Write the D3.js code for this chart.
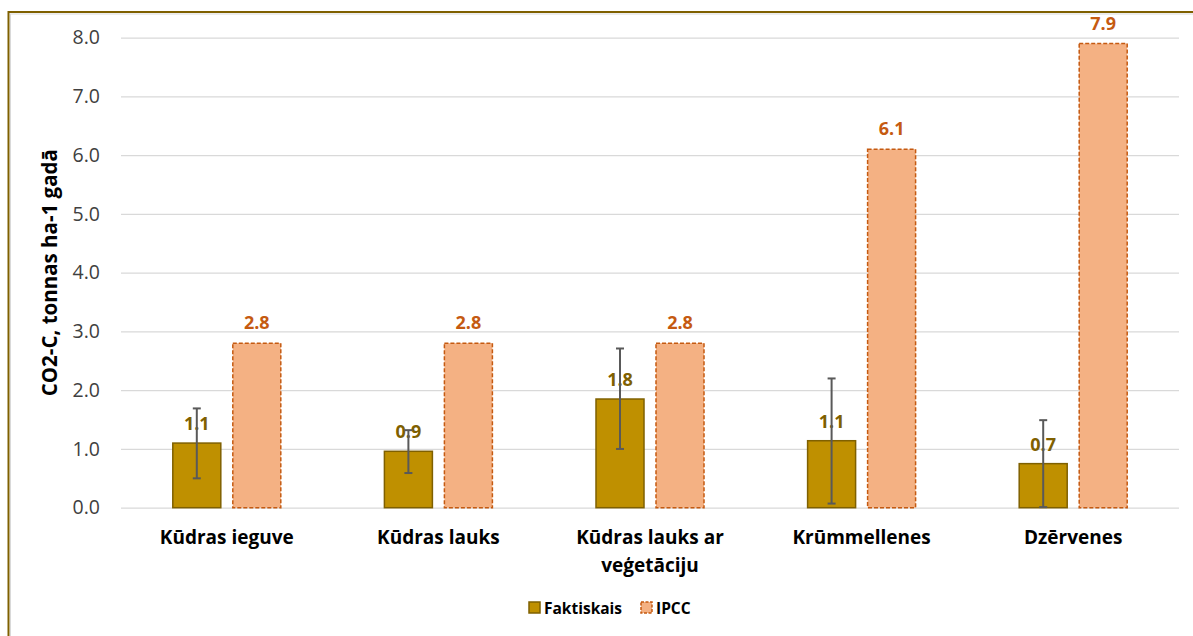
<!DOCTYPE html>
<html>
<head>
<meta charset="utf-8">
<script src="https://cdn.jsdelivr.net/npm/d3@7"></script>
<style>
  body { margin: 0; background: #fff; }
  svg { display: block; font-family: "Open Sans", sans-serif; }
</style>
</head>
<body>
<svg id="chart" width="1193" height="636"></svg>
<script>
// data
const categories = ["Kūdras ieguve", "Kūdras lauks", "Kūdras lauks ar veģetāciju", "Krūmmellenes", "Dzērvenes"];
const faktiskais = [1.1, 0.96, 1.85, 1.14, 0.75];
const faktLabels = ["1.1", "0.9", "1.8", "1.1", "0.7"];
const errLow = [0.5, 0.59, 1.0, 0.07, 0.01];
const errHigh = [1.69, 1.32, 2.71, 2.2, 1.49];
const ipcc = [2.8, 2.8, 2.8, 6.1, 7.9];
const yTicks = [0, 1, 2, 3, 4, 5, 6, 7, 8];
const seriesNames = ["Faktiskais", "IPCC"];

const svg = d3.select("#chart");
const margin = {top: 37.7, left: 121, right: 1193 - 1179, bottom: 636 - 507.7};
const width = 1193, height = 636;

// outer frame
svg.append("rect").attr("x", 10.5).attr("y", 14).attr("width", 1200).attr("height", 640)
  .attr("fill", "none").attr("stroke", "#d9d9d9").attr("stroke-width", 1);
svg.append("rect").attr("x", 8.5).attr("y", 12).attr("width", 1200).attr("height", 640)
  .attr("fill", "none").attr("stroke", "#7f6000").attr("stroke-width", 2);

const x = d3.scaleBand()
  .domain(categories)
  .range([margin.left, width - margin.right]);

const y = d3.scaleLinear()
  .domain([0, 8])
  .range([height - margin.bottom, margin.top]);

// gridlines + tick labels
const yAxis = svg.append("g")
  .attr("transform", `translate(${margin.left},0)`)
  .call(d3.axisLeft(y).tickValues(yTicks).tickFormat(d3.format(".1f"))
    .tickSize(-(width - margin.left - margin.right)).tickPadding(21));
yAxis.select(".domain").remove();
yAxis.selectAll(".tick line").attr("stroke", "#d9d9d9").attr("stroke-width", 1.3);
yAxis.selectAll(".tick text").attr("fill", "#404040").style("font-size", "19.5px")
  .style("font-family", "'Open Sans', sans-serif");

const barW = 48, gap = 12;
const cx = c => x(c) + x.bandwidth() / 2;

// Faktiskais bars
svg.append("g").selectAll("rect")
  .data(categories)
  .join("rect")
  .attr("x", c => cx(c) - gap / 2 - barW)
  .attr("y", (c, i) => y(faktiskais[i]))
  .attr("width", barW)
  .attr("height", (c, i) => y(0) - y(faktiskais[i]))
  .attr("fill", "#bf9000")
  .attr("stroke", "#7f6000")
  .attr("stroke-width", 1.5);

// IPCC bars
svg.append("g").selectAll("rect")
  .data(categories)
  .join("rect")
  .attr("x", c => cx(c) + gap / 2)
  .attr("y", (c, i) => y(ipcc[i]))
  .attr("width", barW)
  .attr("height", (c, i) => y(0) - y(ipcc[i]))
  .attr("fill", "#f4b183")
  .attr("stroke", "#c55a11")
  .attr("stroke-width", 1.5)
  .attr("stroke-dasharray", "4,2");

// labels for Faktiskais (drawn under the error bars)
svg.append("g").selectAll("text")
  .data(categories)
  .join("text")
  .attr("x", c => cx(c) - gap / 2 - barW / 2)
  .attr("y", (c, i) => y(faktiskais[i]) - 13)
  .attr("text-anchor", "middle")
  .attr("fill", "#7f6000")
  .style("font-size", "18px")
  .style("font-weight", "bold")
  .text((c, i) => faktLabels[i]);

// error bars
const eb = svg.append("g").attr("stroke", "#595959").attr("stroke-width", 2);
categories.forEach((c, i) => {
  const ex = cx(c) - gap / 2 - barW / 2;
  eb.append("line").attr("x1", ex).attr("x2", ex).attr("y1", y(errLow[i])).attr("y2", y(errHigh[i]));
  eb.append("line").attr("x1", ex - 4).attr("x2", ex + 4).attr("y1", y(errLow[i])).attr("y2", y(errLow[i]));
  eb.append("line").attr("x1", ex - 4).attr("x2", ex + 4).attr("y1", y(errHigh[i])).attr("y2", y(errHigh[i]));
});

// IPCC labels
svg.append("g").selectAll("text")
  .data(categories)
  .join("text")
  .attr("x", c => cx(c) + gap / 2 + barW / 2)
  .attr("y", (c, i) => y(ipcc[i]) - 14)
  .attr("text-anchor", "middle")
  .attr("fill", "#c55a11")
  .style("font-size", "18px")
  .style("font-weight", "bold")
  .text((c, i) => ipcc[i].toFixed(1));

// category labels (wrapped)
const catLines = {"Kūdras lauks ar veģetāciju": ["Kūdras lauks ar", "veģetāciju"]};
const catG = svg.append("g");
categories.forEach(c => {
  const lines = catLines[c] || [c];
  const t = catG.append("text")
    .attr("x", cx(c))
    .attr("y", 544)
    .attr("text-anchor", "middle")
    .attr("fill", "#000")
    .style("font-size", "19px")
    .style("font-weight", "bold");
  lines.forEach((l, k) => t.append("tspan").attr("x", cx(c)).attr("dy", k ? 28 : 0).text(l));
});

// y axis title
svg.append("text")
  .attr("transform", `translate(57,${(y(0) + y(8)) / 2}) rotate(-90)`)
  .attr("text-anchor", "middle")
  .attr("fill", "#000")
  .style("font-size", "20.5px")
  .style("font-weight", "bold")
  .text("CO2-C, tonnas ha-1 gadā");

// legend
const leg = svg.append("g");
const legX = [529, 641];
leg.append("rect").attr("x", legX[0]).attr("y", 602).attr("width", 11).attr("height", 11)
  .attr("fill", "#bf9000").attr("stroke", "#7f6000").attr("stroke-width", 1.5);
leg.append("rect").attr("x", legX[1]).attr("y", 602).attr("width", 11).attr("height", 11)
  .attr("fill", "#f4b183").attr("stroke", "#c55a11").attr("stroke-width", 1.5).attr("stroke-dasharray", "3,1.5");
seriesNames.forEach((n, i) => {
  leg.append("text").attr("x", legX[i] + 15).attr("y", 613.5)
    .attr("fill", "#000").style("font-size", "15.5px").style("font-weight", "bold").text(n);
});
</script>
</body>
</html>
